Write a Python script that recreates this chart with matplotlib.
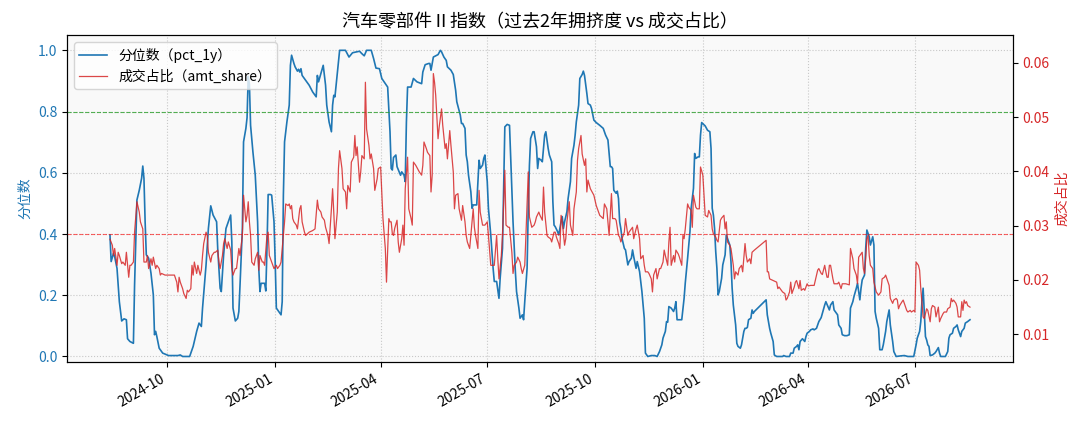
import matplotlib
matplotlib.use('Agg')
import matplotlib.pyplot as plt
import matplotlib.dates as mdates
import pandas as pd

plt.rcParams['font.family'] = ['Noto Sans CJK SC', 'DejaVu Sans']
plt.rcParams['axes.unicode_minus'] = False

# days counted from the first date of the series
start = pd.Timestamp('2024-08-13')

title = '汽车零部件Ⅱ指数（过去2年拥挤度 vs 成交占比）'
pct_label = '分位数（pct_1y）'
amt_label = '成交占比（amt_share）'

# (day, pct_1y)
pct_points = [
    (0, .397), (1, .310), (3, .337), (4, .326), (6, .288), (7, .234), (8, .179), (10, .116), (12, .123), (14, .120),
    (15, .058), (17, .049), (20, .043), (21, .234), (23, .511), (25, .543), (27, .582), (28, .622), (29, .582), (30, .440),
    (31, .332), (33, .321), (35, .272), (37, .201), (38, .071), (39, .082), (40, .065), (42, .027), (45, .011), (50, .003),
    (58, .003), (60, .005), (62, 0), (68, 0), (71, .033), (74, .082), (76, .109), (78, .098), (79, .158), (82, .299),
    (84, .418), (86, .492), (88, .462), (91, .440), (92, .348), (94, .223), (95, .212), (97, .332), (99, .418), (101, .440),
    (103, .462), (104, .375), (105, .158), (107, .116), (109, .125), (110, .147), (111, .234), (113, .418), (114, .701), (116, .745),
    (117, .780), (118, .915), (119, .890), (120, .755), (122, .668), (124, .592), (126, .440), (127, .288), (128, .212), (129, .239),
    (130, .239), (132, .239), (133, .214), (134, .353), (135, .529), (137, .529), (138, .527), (140, .440), (141, .310), (142, .158),
    (144, .147), (146, .136), (147, .179), (148, .527), (149, .701), (151, .766), (153, .821), (154, .951), (155, .984), (157, .957),
    (158, .946), (160, .932), (161, .938), (162, .929), (163, .940), (164, .918), (167, .902), (170, .886), (173, .864), (176, .848),
    (177, .918), (178, .897), (180, .924), (182, .951), (184, .886), (185, .821), (187, .766), (189, .734), (190, .821), (191, .853),
    (192, .848), (193, .886), (195, .962), (196, 1.0), (201, 1.0), (204, .978), (207, .992), (213, .997), (215, .989), (217, .982),
    (219, 1.0), (223, 1.0), (225, .973), (227, .942), (230, .940), (232, .908), (235, .891), (237, .880), (238, .810), (239, .734),
    (240, .614), (241, .609), (242, .650), (244, .658), (245, .620), (248, .592), (249, .603), (251, .592), (252, .571), (253, .766),
    (254, .880), (256, .880), (257, .880), (259, .908), (262, .897), (266, .891), (267, .929), (269, .953), (272, .957), (273, .957),
    (274, .935), (276, .978), (278, .982), (280, .986), (282, 1.0), (283, .995), (285, .978), (287, .967), (288, .946), (291, .935),
    (293, .921), (295, .870), (296, .832), (299, .788), (300, .761), (301, .761), (303, .745), (304, .658), (305, .636), (306, .592),
    (308, .538), (309, .484), (310, .495), (313, .495), (314, .571), (315, .641), (316, .614), (318, .625), (319, .647), (320, .658),
    (322, .571), (323, .484), (325, .397), (326, .342), (327, .288), (328, .245), (330, .245), (332, .190), (333, .255), (335, .353),
    (336, .549), (337, .750), (339, .758), (341, .755), (342, .647), (344, .440), (346, .277), (347, .212), (349, .158), (350, .125),
    (352, .136), (353, .120), (354, .179), (356, .288), (357, .484), (358, .625), (359, .712), (361, .734), (362, .734), (364, .685),
    (365, .614), (366, .647), (368, .641), (369, .636), (371, .723), (372, .734), (374, .679), (375, .658), (377, .636), (378, .505),
    (379, .429), (380, .424), (382, .408), (383, .397), (385, .440), (386, .457), (387, .418), (388, .440), (390, .473), (391, .516),
    (393, .571), (394, .647), (396, .690), (397, .723), (398, .766), (400, .821), (401, .908), (403, .921), (404, .932), (405, .918),
    (407, .859), (408, .826), (410, .821), (411, .810), (413, .772), (415, .764), (418, .755), (421, .745), (423, .723), (425, .707),
    (427, .620), (428, .620), (429, .614), (430, .543), (432, .533), (433, .540), (434, .516), (435, .440), (436, .418), (437, .386),
    (439, .353), (440, .348), (442, .299), (443, .310), (445, .321), (446, .348), (447, .326), (449, .288), (450, .310), (452, .277),
    (453, .245), (454, .212), (456, .125), (457, .011), (459, 0), (462, .003), (465, .003), (467, 0), (469, .016), (471, .038),
    (472, .060), (474, .082), (475, .114), (476, .112), (477, .163), (479, .158), (481, .147), (482, .158), (483, .179), (484, .120),
    (486, .120), (488, .120), (490, .190), (491, .240), (493, .321), (495, .408), (496, .484), (498, .549), (499, .663), (500, .647),
    (502, .652), (503, .652), (504, .723), (505, .764), (508, .753), (510, .739), (512, .734), (513, .679), (514, .484), (515, .462),
    (516, .418), (517, .342), (518, .288), (519, .201), (520, .212), (522, .255), (523, .299), (525, .332), (526, .397), (527, .386),
    (529, .364), (530, .310), (531, .223), (532, .168), (534, .103), (535, .043), (536, .033), (538, .027), (539, .038), (541, .082),
    (542, .092), (543, .092), (544, .095), (545, .120), (547, .125), (548, .152), (549, .141), (550, .147), (560, .185), (561, .136),
    (563, .092), (564, .076), (566, .049), (567, .005), (569, 0), (574, 0), (575, .003), (577, 0), (580, 0), (581, .011),
    (583, .011), (584, .027), (586, .033), (587, .038), (588, .022), (589, .049), (591, .058), (593, .049), (594, .065), (595, .076),
    (597, .082), (598, .087), (600, .090), (601, .087), (603, .092), (604, .103), (605, .114), (607, .127), (608, .141), (610, .168),
    (611, .179), (612, .170), (614, .152), (615, .168), (617, .179), (618, .152), (620, .141), (621, .136), (622, .103), (624, .092),
    (625, .071), (627, .068), (629, .068), (631, .071), (632, .158), (634, .179), (635, .196), (637, .223), (638, .239), (639, .212),
    (640, .185), (641, .223), (642, .250), (644, .266), (645, .353), (646, .413), (648, .391), (649, .364), (651, .391), (652, .364),
    (653, .147), (654, .125), (656, .092), (657, .022), (659, .022), (660, .038), (662, .082), (663, .114), (665, .152), (666, .103),
    (668, .049), (669, .016), (671, 0), (675, .002), (678, .003), (681, 0), (686, 0), (688, .038), (689, .060), (691, .082),
    (692, .114), (693, .179), (694, .223), (695, .147), (696, .065), (697, .054), (698, .038), (699, .033), (700, .003), (702, .005),
    (704, .011), (705, .016), (707, .029), (708, .011), (709, 0), (713, 0), (715, .016), (716, .060), (717, .071), (719, .076),
    (720, .092), (722, .098), (723, .103), (724, .087), (726, .065), (727, .082), (729, .092), (730, .109), (732, .114), (734, .120),
]

# (day, amt_share)
amt_points = [
    (0, .0275), (2, .0264), (3, .0245), (4, .0258), (6, .0227), (7, .0251), (8, .0245), (10, .0230), (11, .0233), (13, .0227),
    (14, .0251), (16, .0205), (17, .0227), (18, .0227), (20, .0233), (21, .0288), (23, .0344), (25, .0325), (26, .0307), (28, .0294),
    (29, .0233), (31, .0233), (32, .0245), (33, .0221), (35, .0239), (36, .0227), (37, .0242), (39, .0221), (40, .0227), (42, .0221),
    (43, .0209), (44, .0212), (47, .0209), (50, .0209), (52, .0209), (55, .0209), (57, .0196), (58, .0178), (59, .0205), (60, .0196),
    (62, .0184), (63, .0175), (65, .0166), (66, .0181), (67, .0178), (69, .0184), (70, .0227), (71, .0209), (72, .0233), (74, .0212),
    (75, .0227), (77, .0209), (78, .0218), (79, .0245), (80, .0267), (82, .0288), (83, .0282), (84, .0251), (86, .0233), (87, .0245),
    (89, .0251), (90, .0251), (92, .0255), (93, .0233), (94, .0221), (96, .0245), (97, .0267), (98, .0276), (100, .0258), (101, .0270),
    (103, .0255), (104, .0221), (105, .0209), (107, .0221), (108, .0221), (110, .0258), (111, .0245), (113, .0282), (114, .0356), (116, .0307),
    (117, .0319), (118, .0344), (119, .0307), (120, .0282), (121, .0233), (123, .0227), (124, .0239), (126, .0251), (127, .0218), (128, .0245),
    (130, .0233), (131, .0233), (132, .0227), (134, .0282), (135, .0288), (136, .0245), (137, .0239), (139, .0227), (140, .0221), (142, .0227),
    (143, .0221), (145, .0227), (146, .0233), (147, .0258), (149, .0307), (150, .0340), (152, .0337), (153, .0340), (154, .0331), (155, .0337),
    (156, .0313), (157, .0307), (159, .0301), (160, .0294), (162, .0331), (163, .0337), (164, .0307), (166, .0288), (167, .0282), (170, .0288),
    (173, .0291), (175, .0294), (177, .0347), (178, .0331), (180, .0325), (181, .0316), (183, .0310), (184, .0297), (186, .0282), (187, .0267),
    (189, .0331), (190, .0368), (191, .0325), (192, .0276), (194, .0325), (195, .0405), (196, .0438), (198, .0405), (199, .0368), (201, .0362),
    (202, .0331), (203, .0374), (205, .0362), (206, .0417), (208, .0426), (209, .0466), (210, .0429), (211, .0445), (213, .0380), (214, .0399),
    (215, .0429), (217, .0423), (218, .0564), (219, .0478), (221, .0448), (222, .0423), (223, .0432), (225, .0405), (226, .0365), (228, .0386),
    (229, .0405), (231, .0408), (232, .0359), (233, .0313), (235, .0258), (236, .0196), (238, .0313), (239, .0307), (240, .0307), (241, .0285),
    (242, .0282), (243, .0295), (245, .0310), (246, .0270), (247, .0251), (249, .0276), (250, .0301), (251, .0264), (252, .0368), (254, .0426),
    (255, .0331), (257, .0313), (258, .0301), (259, .0417), (261, .0411), (264, .0399), (266, .0393), (267, .0411), (268, .0454), (270, .0442),
    (271, .0435), (273, .0429), (274, .0362), (275, .0393), (276, .0580), (277, .0564), (278, .0540), (280, .0460), (281, .0482), (283, .0515),
    (284, .0485), (286, .0442), (287, .0451), (288, .0423), (290, .0475), (291, .0448), (293, .0399), (294, .0331), (295, .0356), (297, .0359),
    (298, .0331), (300, .0310), (301, .0337), (303, .0307), (304, .0282), (305, .0270), (307, .0258), (308, .0282), (310, .0331), (311, .0297),
    (312, .0282), (314, .0258), (315, .0365), (316, .0325), (318, .0301), (320, .0301), (322, .0307), (323, .0282), (325, .0227), (328, .0227),
    (330, .0282), (331, .0239), (332, .0202), (334, .0245), (335, .0282), (337, .0402), (338, .0301), (340, .0297), (341, .0297), (343, .0251),
    (344, .0212), (345, .0227), (347, .0233), (348, .0242), (350, .0233), (351, .0221), (352, .0212), (354, .0227), (355, .0282), (357, .0399),
    (358, .0316), (360, .0297), (362, .0301), (363, .0307), (364, .0316), (366, .0325), (367, .0319), (369, .0310), (370, .0371), (371, .0325),
    (373, .0282), (374, .0279), (376, .0276), (377, .0270), (379, .0288), (380, .0288), (381, .0279), (383, .0267), (384, .0258), (385, .0319),
    (386, .0307), (388, .0264), (389, .0276), (390, .0307), (392, .0344), (393, .0301), (395, .0282), (396, .0331), (398, .0362), (399, .0420),
    (400, .0442), (402, .0466), (403, .0432), (405, .0411), (406, .0423), (407, .0362), (408, .0384), (410, .0368), (413, .0356), (415, .0337),
    (418, .0319), (421, .0313), (422, .0340), (424, .0331), (425, .0307), (426, .0282), (428, .0359), (429, .0313), (431, .0313), (432, .0310),
    (434, .0282), (435, .0279), (436, .0270), (437, .0276), (439, .0288), (440, .0313), (442, .0282), (443, .0288), (445, .0294), (446, .0297),
    (447, .0276), (449, .0294), (450, .0301), (452, .0276), (453, .0239), (455, .0245), (456, .0227), (457, .0215), (459, .0215), (460, .0212),
    (462, .0202), (463, .0178), (464, .0209), (466, .0221), (467, .0202), (469, .0221), (470, .0221), (472, .0233), (473, .0255), (474, .0245),
    (476, .0227), (477, .0270), (478, .0297), (479, .0227), (481, .0245), (482, .0233), (483, .0255), (485, .0248), (486, .0242), (488, .0227),
    (489, .0282), (490, .0276), (491, .0294), (493, .0340), (494, .0334), (496, .0328), (497, .0297), (498, .0356), (500, .0334), (501, .0331),
    (503, .0331), (504, .0408), (506, .0393), (507, .0356), (508, .0319), (510, .0316), (511, .0328), (513, .0319), (514, .0294), (515, .0285),
    (517, .0279), (518, .0273), (519, .0270), (521, .0310), (522, .0314), (524, .0319), (525, .0294), (526, .0307), (527, .0270), (529, .0264),
    (530, .0258), (532, .0227), (533, .0202), (534, .0215), (536, .0209), (537, .0221), (539, .0227), (540, .0215), (542, .0267), (543, .0245),
    (544, .0233), (546, .0239), (547, .0230), (548, .0251), (550, .0255), (560, .0273), (561, .0215), (562, .0215), (563, .0202), (566, .0199),
    (569, .0196), (570, .0184), (571, .0187), (573, .0181), (574, .0178), (576, .0175), (577, .0163), (578, .0166), (580, .0178), (581, .0196),
    (582, .0175), (584, .0187), (585, .0196), (586, .0199), (588, .0184), (589, .0199), (590, .0181), (592, .0184), (593, .0181), (595, .0193),
    (596, .0189), (598, .0190), (601, .0190), (603, .0209), (604, .0218), (605, .0221), (607, .0212), (608, .0210), (610, .0227), (611, .0215),
    (612, .0205), (613, .0205), (614, .0227), (615, .0227), (617, .0202), (618, .0193), (620, .0193), (621, .0193), (622, .0196), (624, .0184),
    (625, .0193), (628, .0193), (631, .0191), (632, .0258), (634, .0239), (635, .0221), (637, .0209), (638, .0193), (639, .0242), (641, .0248),
    (642, .0251), (643, .0221), (644, .0212), (645, .0239), (646, .0276), (647, .0282), (648, .0245), (649, .0227), (651, .0221), (652, .0196),
    (654, .0178), (655, .0175), (656, .0172), (658, .0178), (659, .0202), (661, .0205), (662, .0209), (664, .0196), (665, .0190), (666, .0166),
    (668, .0157), (669, .0163), (671, .0166), (672, .0163), (673, .0147), (674, .0153), (676, .0160), (677, .0163), (679, .0150), (680, .0144),
    (681, .0141), (683, .0144), (684, .0141), (686, .0144), (687, .0141), (688, .0233), (690, .0227), (691, .0218), (692, .0184), (694, .0132),
    (695, .0129), (697, .0147), (698, .0144), (700, .0123), (701, .0147), (702, .0153), (704, .0150), (705, .0132), (707, .0150), (708, .0123),
    (709, .0129), (711, .0138), (712, .0141), (714, .0141), (715, .0147), (717, .0150), (718, .0166), (719, .0160), (720, .0163), (722, .0157),
    (723, .0150), (724, .0132), (726, .0132), (727, .0160), (728, .0144), (729, .0163), (730, .0157), (731, .0160), (732, .0153), (734, .0150),
]

pct_day, pct_val = zip(*pct_points)
amt_day, amt_val = zip(*amt_points)
pct_dates = start + pd.to_timedelta(list(pct_day), unit='D')
amt_dates = start + pd.to_timedelta(list(amt_day), unit='D')

fig, ax1 = plt.subplots(figsize=(10.89, 4.29), dpi=100)
fig.subplots_adjust(left=0.0615, right=0.9302, bottom=0.1562, top=0.9184)
ax1.set_facecolor('#f9f9f9')

l1, = ax1.plot(pct_dates, pct_val, color='tab:blue', lw=1.2)
ax1.axhline(0.8, color='tab:green', ls='--', lw=0.8, alpha=0.8)
ax1.axhline(0.4, color='red', ls='--', lw=0.8, alpha=0.6)
ax1.set_ylim(-0.018, 1.05)
ax1.set_ylabel('分位数', color='tab:blue', fontsize=10)
ax1.tick_params(axis='y', labelcolor='tab:blue', labelsize=10)
ax1.tick_params(axis='x', labelsize=10)
ax1.grid(True, ls=':', color='#c8c8c8', lw=0.8)

ax2 = ax1.twinx()
l2, = ax2.plot(amt_dates, amt_val, color='tab:red', lw=0.9, alpha=0.85)
ax2.set_ylim(0.0049, 0.0651)
ax2.set_ylabel('成交占比', color='tab:red', fontsize=10)
ax2.tick_params(axis='y', labelcolor='tab:red', labelsize=10)

ax1.xaxis.set_major_locator(mdates.MonthLocator(bymonth=[1, 4, 7, 10]))
ax1.xaxis.set_major_formatter(mdates.DateFormatter('%Y-%m'))
plt.setp(ax1.get_xticklabels(), rotation=30, ha='right')

ax1.legend([l1, l2], [pct_label, amt_label], loc='upper left', fontsize=10)
ax1.set_title(title, fontsize=13)

fig.savefig('out.png', dpi=100)
